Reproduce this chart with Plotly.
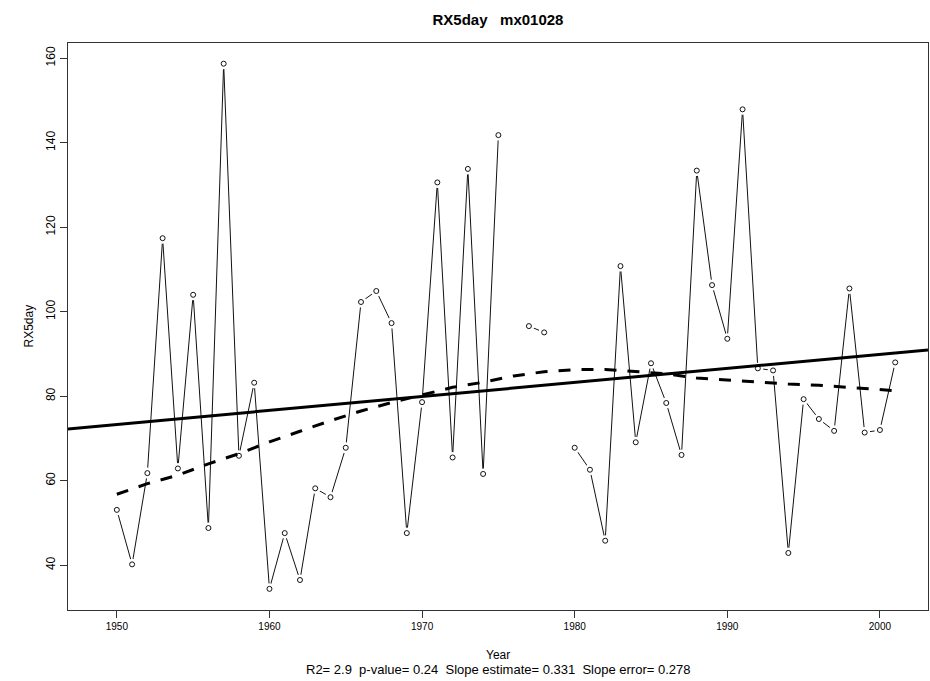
import plotly.graph_objects as go

years = list(range(1950, 2002))
rx5day = [53.1, 40.2, 61.8, 117.4, 62.9, 104.0, 48.8, 158.7, 65.9, 83.2,
          34.4, 47.6, 36.5, 58.2, 56.1, 67.8, 102.3, 104.9, 97.3, 47.6,
          78.6, 130.6, 65.5, 133.8, 61.6, 141.8, None, 96.6, 95.1, None,
          67.8, 62.6, 45.8, 110.8, 69.1, 87.8, 78.4, 66.1, 133.4, 106.3,
          93.6, 147.9, 86.6, 86.1, 42.9, 79.3, 74.6, 71.8, 105.5, 71.4,
          72.0, 88.0]

smooth_years = [1950, 1952, 1954, 1956, 1958, 1960, 1962, 1964, 1966, 1968,
                1970, 1972, 1974, 1976, 1978, 1980, 1982, 1984, 1986, 1988,
                1990, 1992, 1994, 1996, 1998, 2000, 2001]
smooth_vals = [56.8, 59.3, 61.3, 64.0, 66.4, 69.2, 71.7, 74.2, 76.5, 78.5,
               80.3, 82.1, 83.3, 84.8, 85.8, 86.3, 86.35, 85.8, 85.3, 84.3,
               83.8, 83.3, 82.9, 82.6, 82.1, 81.6, 81.3]

trend_slope = 0.331
trend_center_year = 1975
trend_center_val = 81.6

x_range = [1946.8, 2003.15]
y_range = [29.4, 163.6]

font = "Liberation Sans, Arial, sans-serif"

fig = go.Figure()

# data line
fig.add_trace(go.Scatter(x=years, y=rx5day, mode="lines",
                         line=dict(color="#111111", width=1),
                         connectgaps=False, hoverinfo="skip", showlegend=False))
# white masks to create the gaps around points (R type="b")
fig.add_trace(go.Scatter(x=years, y=rx5day, mode="markers",
                         marker=dict(symbol="circle", size=11, color="white",
                                     line=dict(width=0)),
                         hoverinfo="skip", showlegend=False))
# open points
fig.add_trace(go.Scatter(x=years, y=rx5day, mode="markers",
                         marker=dict(symbol="circle-open", size=5,
                                     color="#111111", line=dict(width=1)),
                         showlegend=False))
# lowess smoothing
fig.add_trace(go.Scatter(x=smooth_years, y=smooth_vals, mode="lines",
                         line=dict(color="black", width=3, dash="12px,11px"),
                         hoverinfo="skip", showlegend=False))
# linear trend across full axis
tx = x_range
ty = [trend_center_val + trend_slope * (x - trend_center_year) for x in tx]
fig.add_trace(go.Scatter(x=tx, y=ty, mode="lines",
                         line=dict(color="black", width=3),
                         hoverinfo="skip", showlegend=False))

fig.update_layout(
    width=930, height=681,
    margin=dict(l=68, r=2, t=43, b=71, autoexpand=False),
    paper_bgcolor="white", plot_bgcolor="white",
    font=dict(family=font, color="black", size=12),
    title=dict(text="<b>RX5day   mx01028</b>", x=498/930, xanchor="center",
               y=1 - 20/681, yanchor="middle", automargin=False,
               font=dict(size=15, family=font, color="black")),
    xaxis=dict(range=x_range, tickvals=[1950, 1960, 1970, 1980, 1990, 2000],
               ticks="outside", ticklen=7, tickcolor="#333", tickwidth=1,
               showgrid=False, zeroline=False, showline=True, linecolor="#333",
               linewidth=1, mirror=True, automargin=False,
               tickfont=dict(size=10, family=font)),
    yaxis=dict(range=y_range, tickvals=[40, 60, 80, 100, 120, 140, 160],
               ticks="outside", ticklen=7, tickcolor="#333", tickwidth=1,
               showgrid=False, zeroline=False, showline=True, linecolor="#333",
               linewidth=1, mirror=True, tickangle=-90, automargin=False,
               tickfont=dict(size=12, family=font)),
    annotations=[
        dict(text="Year", xref="paper", yref="paper", x=0.5, y=0,
             xanchor="center", yanchor="middle", yshift=-45, showarrow=False,
             font=dict(size=12, family=font)),
        dict(text="R2= 2.9  p-value= 0.24  Slope estimate= 0.331  Slope error= 0.278",
             xref="paper", yref="paper", x=0.5, y=0,
             xanchor="center", yanchor="middle", yshift=-59, showarrow=False,
             font=dict(size=13, family=font)),
        dict(text="RX5day", xref="paper", yref="paper", x=0, y=0.5,
             xanchor="center", yanchor="middle", xshift=-40, textangle=-90,
             showarrow=False, font=dict(size=12, family=font)),
    ],
)

fig.write_html("out.html", config={"displayModeBar": False},
               post_script="document.body.style.margin='0px';document.body.style.overflow='hidden';")
